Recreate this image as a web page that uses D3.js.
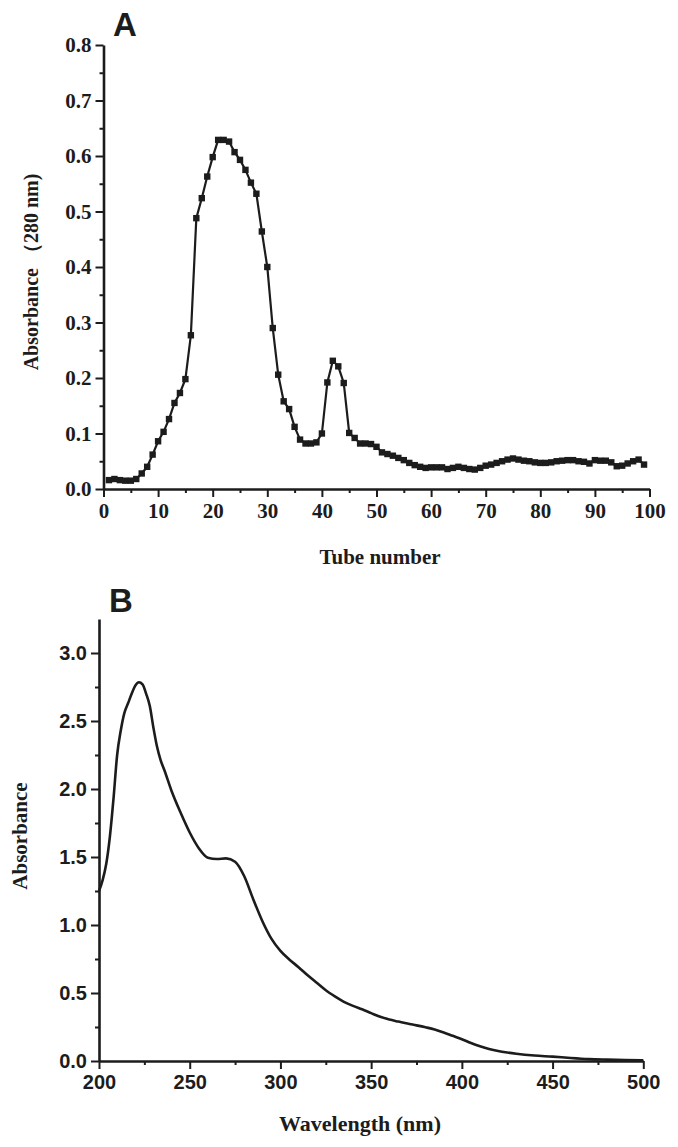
<!DOCTYPE html>
<html>
<head>
<meta charset="utf-8">
<script src="https://cdn.jsdelivr.net/npm/d3@7"></script>
<style>
  html, body { margin: 0; padding: 0; background: #fff; }
  svg { display: block; }
</style>
</head>
<body>
<script>
// ---------- Panel A data: absorbance (280 nm) vs tube number ----------
const tubes = d3.range(1, 100);
const absA = [
  0.016, 0.018, 0.016, 0.015, 0.015, 0.018, 0.028, 0.040, 0.062, 0.086,
  0.103, 0.126, 0.155, 0.173, 0.198, 0.277, 0.488, 0.524, 0.563, 0.598,
  0.629, 0.629, 0.626, 0.607, 0.593, 0.575, 0.552, 0.532, 0.464, 0.400,
  0.290, 0.206, 0.158, 0.144, 0.112, 0.089, 0.082, 0.082, 0.084, 0.100,
  0.192, 0.231, 0.221, 0.191, 0.101, 0.092, 0.082, 0.082, 0.081, 0.076,
  0.066, 0.063, 0.060, 0.056, 0.052, 0.047, 0.043, 0.040, 0.038, 0.039,
  0.039, 0.039, 0.036, 0.038, 0.040, 0.038, 0.036, 0.035, 0.038, 0.042,
  0.044, 0.047, 0.050, 0.053, 0.055, 0.053, 0.051, 0.050, 0.048, 0.047,
  0.047, 0.048, 0.050, 0.051, 0.052, 0.052, 0.050, 0.049, 0.046, 0.052,
  0.051, 0.051, 0.048, 0.041, 0.042, 0.046, 0.050, 0.053, 0.044
];
const xTicksA = [0, 10, 20, 30, 40, 50, 60, 70, 80, 90, 100];
const yTicksA = [0.0, 0.1, 0.2, 0.3, 0.4, 0.5, 0.6, 0.7, 0.8];

// ---------- Panel B data: UV spectrum ----------
const wavelengths = [
  200, 202, 204, 206, 208, 210, 212, 214, 216, 218, 220, 222, 224, 226, 228,
  230, 232, 234, 236, 240, 245, 250, 255, 260, 265, 270, 275, 280, 285, 290,
  295, 300, 305, 310, 315, 320, 325, 330, 335, 340, 345, 350, 355, 360, 365,
  370, 375, 380, 385, 390, 395, 400, 405, 410, 415, 420, 425, 430, 440, 450,
  460, 470, 480, 490, 500
];
const absB = [
  1.25, 1.33, 1.45, 1.65, 1.93, 2.25, 2.43, 2.56, 2.63, 2.70, 2.76, 2.785, 2.77, 2.70, 2.61,
  2.45, 2.31, 2.21, 2.14, 1.985, 1.825, 1.68, 1.565, 1.495, 1.485, 1.49, 1.465, 1.36, 1.19, 1.03,
  0.90, 0.81, 0.745, 0.69, 0.63, 0.575, 0.52, 0.475, 0.435, 0.405, 0.38, 0.352, 0.325, 0.305, 0.29,
  0.275, 0.262, 0.248, 0.232, 0.21, 0.185, 0.16, 0.132, 0.108, 0.088, 0.073, 0.062, 0.053, 0.040, 0.032,
  0.022, 0.014, 0.010, 0.007, 0.005
];
const xTicksB = [200, 250, 300, 350, 400, 450, 500];
const yTicksB = [0.0, 0.5, 1.0, 1.5, 2.0, 2.5, 3.0];

// ---------- drawing ----------
const W = 678, H = 1147;
const ink = "#1c1c1c";
const serif = "'Liberation Serif', 'Times New Roman', serif";
const sans = "'Liberation Sans', Arial, sans-serif";

const svg = d3.select("body").append("svg")
  .attr("width", W).attr("height", H)
  .attr("viewBox", `0 0 ${W} ${H}`);

function styleAxis(g, font, size) {
  g.selectAll(".domain").attr("stroke", ink).attr("stroke-width", 2.6);
  g.selectAll(".tick line").attr("stroke", ink).attr("stroke-width", 2);
  g.selectAll(".tick text")
    .attr("fill", ink)
    .style("font-family", font)
    .style("font-weight", "bold")
    .style("font-size", size + "px");
}

function drawAxes(x, y, xt, yt, xMinor, yMinor, font, size, yFmt, xFmt) {
  const [x0] = x.range();
  const [y0] = y.range();
  // minor ticks
  svg.append("g").attr("transform", `translate(0,${y0})`)
    .call(d3.axisBottom(x).tickValues(xMinor).tickSize(4).tickFormat(""))
    .call(g => { g.select(".domain").remove(); styleAxis(g, font, size); });
  svg.append("g").attr("transform", `translate(${x0},0)`)
    .call(d3.axisLeft(y).tickValues(yMinor).tickSize(4).tickFormat(""))
    .call(g => { g.select(".domain").remove(); styleAxis(g, font, size); });
  // major ticks
  svg.append("g").attr("transform", `translate(0,${y0})`)
    .call(d3.axisBottom(x).tickValues(xt).tickSize(8).tickSizeOuter(0)
      .tickPadding(6).tickFormat(xFmt))
    .call(g => styleAxis(g, font, size));
  svg.append("g").attr("transform", `translate(${x0},0)`)
    .call(d3.axisLeft(y).tickValues(yt).tickSize(8).tickSizeOuter(0)
      .tickPadding(4).tickFormat(yFmt))
    .call(g => styleAxis(g, font, size));
}

// ---- Panel A ----
const xA = d3.scaleLinear().domain([0, 100]).range([103.5, 649.5]);
const yA = d3.scaleLinear().domain([0, 0.8]).range([489, 45]);
drawAxes(xA, yA, xTicksA, yTicksA,
  d3.range(5, 100, 10), d3.range(0.05, 0.8, 0.1),
  serif, 21, d3.format(".1f"), d3.format("d"));

const ptsA = tubes.map((t, i) => [t, absA[i]]);
svg.append("path")
  .datum(ptsA)
  .attr("fill", "none")
  .attr("stroke", ink)
  .attr("stroke-width", 2.2)
  .attr("d", d3.line().x(d => xA(d[0])).y(d => yA(d[1])));
svg.append("g").selectAll("rect")
  .data(ptsA).join("rect")
  .attr("x", d => xA(d[0]) - 3.2)
  .attr("y", d => yA(d[1]) - 3.2)
  .attr("width", 6.4).attr("height", 6.4)
  .attr("fill", ink);

svg.append("text")
  .attr("x", 380).attr("y", 564)
  .attr("text-anchor", "middle")
  .style("font-family", serif).style("font-weight", "bold").style("font-size", "21px")
  .attr("fill", ink)
  .text("Tube number");
svg.append("text")
  .attr("transform", "translate(38,272) rotate(-90)")
  .attr("text-anchor", "middle")
  .style("font-family", serif).style("font-weight", "bold").style("font-size", "20px")
  .attr("fill", ink)
  .text("Absorbance （280 nm)");
svg.append("text")
  .attr("x", 125).attr("y", 36)
  .attr("text-anchor", "middle")
  .style("font-family", sans).style("font-weight", "bold").style("font-size", "33px")
  .attr("fill", ink)
  .text("A");

// ---- Panel B ----
const xB = d3.scaleLinear().domain([200, 500]).range([99, 643.3]);
const yB = d3.scaleLinear().domain([0, 3.25]).range([1061, 619]);
drawAxes(xB, yB, xTicksB, yTicksB,
  d3.range(225, 500, 50), d3.range(0.25, 3.25, 0.5),
  sans, 20, d3.format(".1f"), d3.format("d"));

svg.append("path")
  .datum(wavelengths.map((w, i) => [w, absB[i]]))
  .attr("fill", "none")
  .attr("stroke", ink)
  .attr("stroke-width", 2.6)
  .attr("stroke-linejoin", "round")
  .attr("d", d3.line().curve(d3.curveMonotoneX).x(d => xB(d[0])).y(d => yB(d[1])));

svg.append("text")
  .attr("x", 360).attr("y", 1131)
  .attr("text-anchor", "middle")
  .style("font-family", serif).style("font-weight", "bold").style("font-size", "22px")
  .attr("fill", ink)
  .text("Wavelength (nm)");
svg.append("text")
  .attr("transform", "translate(27,836) rotate(-90)")
  .attr("text-anchor", "middle")
  .style("font-family", serif).style("font-weight", "bold").style("font-size", "21px")
  .attr("fill", ink)
  .text("Absorbance");
svg.append("text")
  .attr("x", 121).attr("y", 612)
  .attr("text-anchor", "middle")
  .style("font-family", sans).style("font-weight", "bold").style("font-size", "33px")
  .attr("fill", ink)
  .text("B");
</script>
</body>
</html>
